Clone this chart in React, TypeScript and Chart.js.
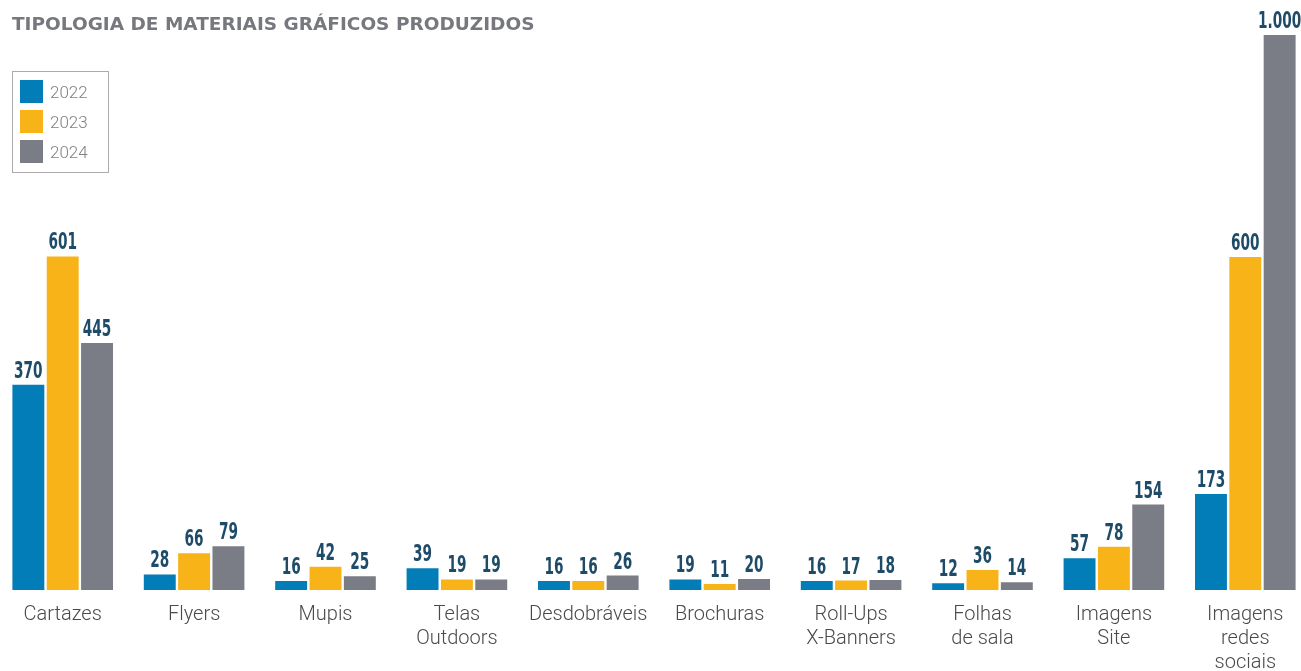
import React, { useEffect, useRef } from "react";
import { Chart, registerables } from "chart.js";

Chart.register(...registerables);

const title = "TIPOLOGIA DE MATERIAIS GRÁFICOS PRODUZIDOS";
const categories: (string | string[])[] = [
  "Cartazes",
  "Flyers",
  "Mupis",
  ["Telas", "Outdoors"],
  "Desdobráveis",
  "Brochuras",
  ["Roll-Ups", "X-Banners"],
  ["Folhas", "de sala"],
  ["Imagens", "Site"],
  ["Imagens", "redes", "sociais"],
];
const seriesNames = ["2022", "2023", "2024"];
const values2022 = [370, 28, 16, 39, 16, 19, 16, 12, 57, 173];
const values2023 = [601, 66, 42, 19, 16, 11, 17, 36, 78, 600];
const values2024 = [445, 79, 25, 19, 26, 20, 18, 14, 154, 1000];
const colors = ["#027DB8", "#F8B319", "#7A7D85"];
const labelColor = "#1E4B68";

const W = 1314;
const H = 671;

const fmt = (v: number) => v.toLocaleString("de-DE");

const valueLabels = {
  id: "valueLabels",
  afterDatasetsDraw(chart: any) {
    const ctx = chart.ctx;
    ctx.save();
    ctx.fillStyle = labelColor;
    ctx.textAlign = "center";
    ctx.textBaseline = "alphabetic";
    ctx.font = "bold 23px 'DejaVu Sans Condensed', 'Liberation Sans Narrow', sans-serif";
    chart.data.datasets.forEach((ds: any, i: number) => {
      const meta = chart.getDatasetMeta(i);
      meta.data.forEach((bar: any, j: number) => {
        const v = ds.data[j];
        ctx.save();
        ctx.translate(bar.x, bar.y - 7);
        ctx.scale(0.66, 1);
        ctx.fillText(fmt(v), 0, 0);
        ctx.restore();
      });
    });
    ctx.restore();
  },
};

export default function App() {
  const ref = useRef<HTMLCanvasElement>(null);
  useEffect(() => {
    if (!ref.current) return;
    const allSeries = [values2022, values2023, values2024];
    const chart = new Chart(ref.current, {
      type: "bar",
      data: {
        labels: categories,
        datasets: allSeries.map((d, i) => ({
          label: seriesNames[i],
          data: d,
          backgroundColor: colors[i],
          borderWidth: 0,
          barPercentage: 0.93,
          categoryPercentage: 0.784,
        })),
      },
      options: {
        responsive: false,
        animation: false,
        events: [],
        layout: { padding: { top: 35, left: 0, right: 0, bottom: 0 } },
        plugins: {
          legend: { display: false },
          title: { display: false },
          tooltip: { enabled: false },
        },
        scales: {
          y: {
            display: false,
            min: 0,
            max: 1000,
          },
          x: {
            grid: { display: false, drawTicks: false },
            border: { display: false },
            afterFit: (scale: any) => {
              scale.height = 81;
            },
            ticks: {
              autoSkip: false,
              maxRotation: 0,
              minRotation: 0,
              padding: 13,
              color: "#4a4a4a",
              font: { family: "Roboto, 'DejaVu Sans', sans-serif", size: 20, weight: "300", lineHeight: 1.2 },
            },
          },
        },
      },
      plugins: [valueLabels],
    });
    return () => chart.destroy();
  }, []);

  return (
    <div
      style={{
        position: "fixed",
        left: 0,
        top: 0,
        width: 1301,
        height: 671,
        overflow: "hidden",
        background: "#fff",
      }}
    >
      <canvas
        ref={ref}
        width={W}
        height={H}
        style={{ position: "absolute", left: -3, top: 0, width: W, height: H }}
      />
      <div
        style={{
          position: "absolute",
          left: 12,
          top: 12,
          fontFamily: "'DejaVu Sans', sans-serif",
          fontWeight: 700,
          fontSize: 18.5,
          lineHeight: "24px",
          color: "#76787E",
          whiteSpace: "nowrap",
        }}
      >
        {title}
      </div>
      <div
        style={{
          position: "absolute",
          left: 12,
          top: 71,
          width: 97,
          height: 102,
          border: "1px solid #ABABAB",
          boxSizing: "border-box",
        }}
      >
        {seriesNames.map((n, i) => (
          <div
            key={n}
            style={{
              position: "absolute",
              left: 7,
              top: 8 + i * 30,
              display: "flex",
              alignItems: "center",
              height: 23,
            }}
          >
            <div style={{ width: 23, height: 23, background: colors[i] }} />
            <span
              style={{
                marginLeft: 7,
                fontFamily: "Roboto, 'DejaVu Sans', sans-serif",
                fontWeight: 300,
                fontSize: 17,
                color: "#808080",
              }}
            >
              {n}
            </span>
          </div>
        ))}
      </div>
    </div>
  );
}
